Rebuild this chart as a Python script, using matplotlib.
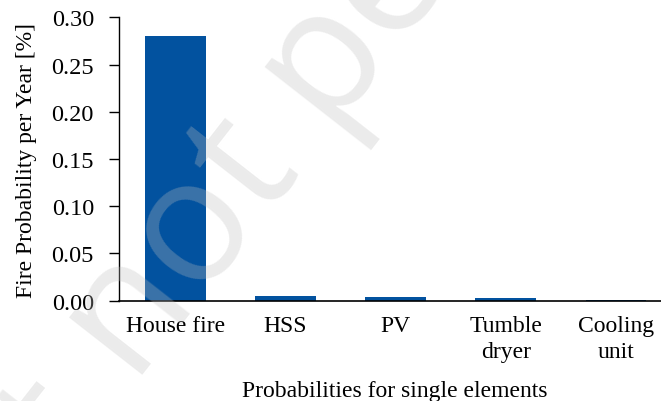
import matplotlib.pyplot as plt
import numpy as np

categories = ["House fire", "HSS", "PV", "Tumble\ndryer", "Cooling\nunit"]
probabilities = [0.28, 0.0045, 0.0035, 0.003, 0.0005]
y_ticks = [0.00, 0.05, 0.10, 0.15, 0.20, 0.25, 0.30]

W, H = 661, 402
fig = plt.figure(figsize=(W / 100, H / 100), dpi=100)
ax = fig.add_axes([119 / W, 1 - 301.7 / H, 551 / W, 283.4 / H])

x = np.arange(len(categories))
ax.bar(x, probabilities, width=0.553, color="#02529f", zorder=2)

ax.set_xlim(-0.51, 4.49)
ax.set_ylim(0, 0.30)
ax.set_yticks(y_ticks)
ax.set_yticklabels([f"{v:.2f}" for v in y_ticks], fontfamily="Liberation Serif", fontsize=17.5)
ax.set_xticks(x)
ax.set_xticklabels(categories, linespacing=1.35, fontfamily="Liberation Serif", fontsize=17)

font = {"family": "Liberation Serif", "size": 17}

ax.tick_params(axis="x", length=0, pad=10)
ax.tick_params(axis="y", length=7, width=1, pad=11, direction="out")
ax.spines["top"].set_visible(False)
ax.spines["right"].set_visible(False)
ax.spines["left"].set_linewidth(1)
ax.spines["bottom"].set_linewidth(1.2)

ax.set_ylabel("Fire Probability per Year [%]", fontdict=font, labelpad=10)
ax.set_xlabel("Probabilities for single elements", fontdict=font, labelpad=13)

# faint preprint watermark over the chart
ang = 52
ux, uy = np.cos(np.radians(ang)), np.sin(np.radians(ang))
sx, sy = 134, 386
wm = dict(fontsize=125, family="Open Sans", color="#bfbfbf", alpha=0.3,
          rotation=ang, rotation_mode="anchor", va="baseline", zorder=10)
fig.text(sx / W, 1 - sy / H, "not peer reviewed", ha="left", **wm)
fig.text((sx - 45 * ux) / W, 1 - (sy + 45 * uy) / H, "Preprint", ha="right", **wm)

fig.savefig("out.png", dpi=100)
